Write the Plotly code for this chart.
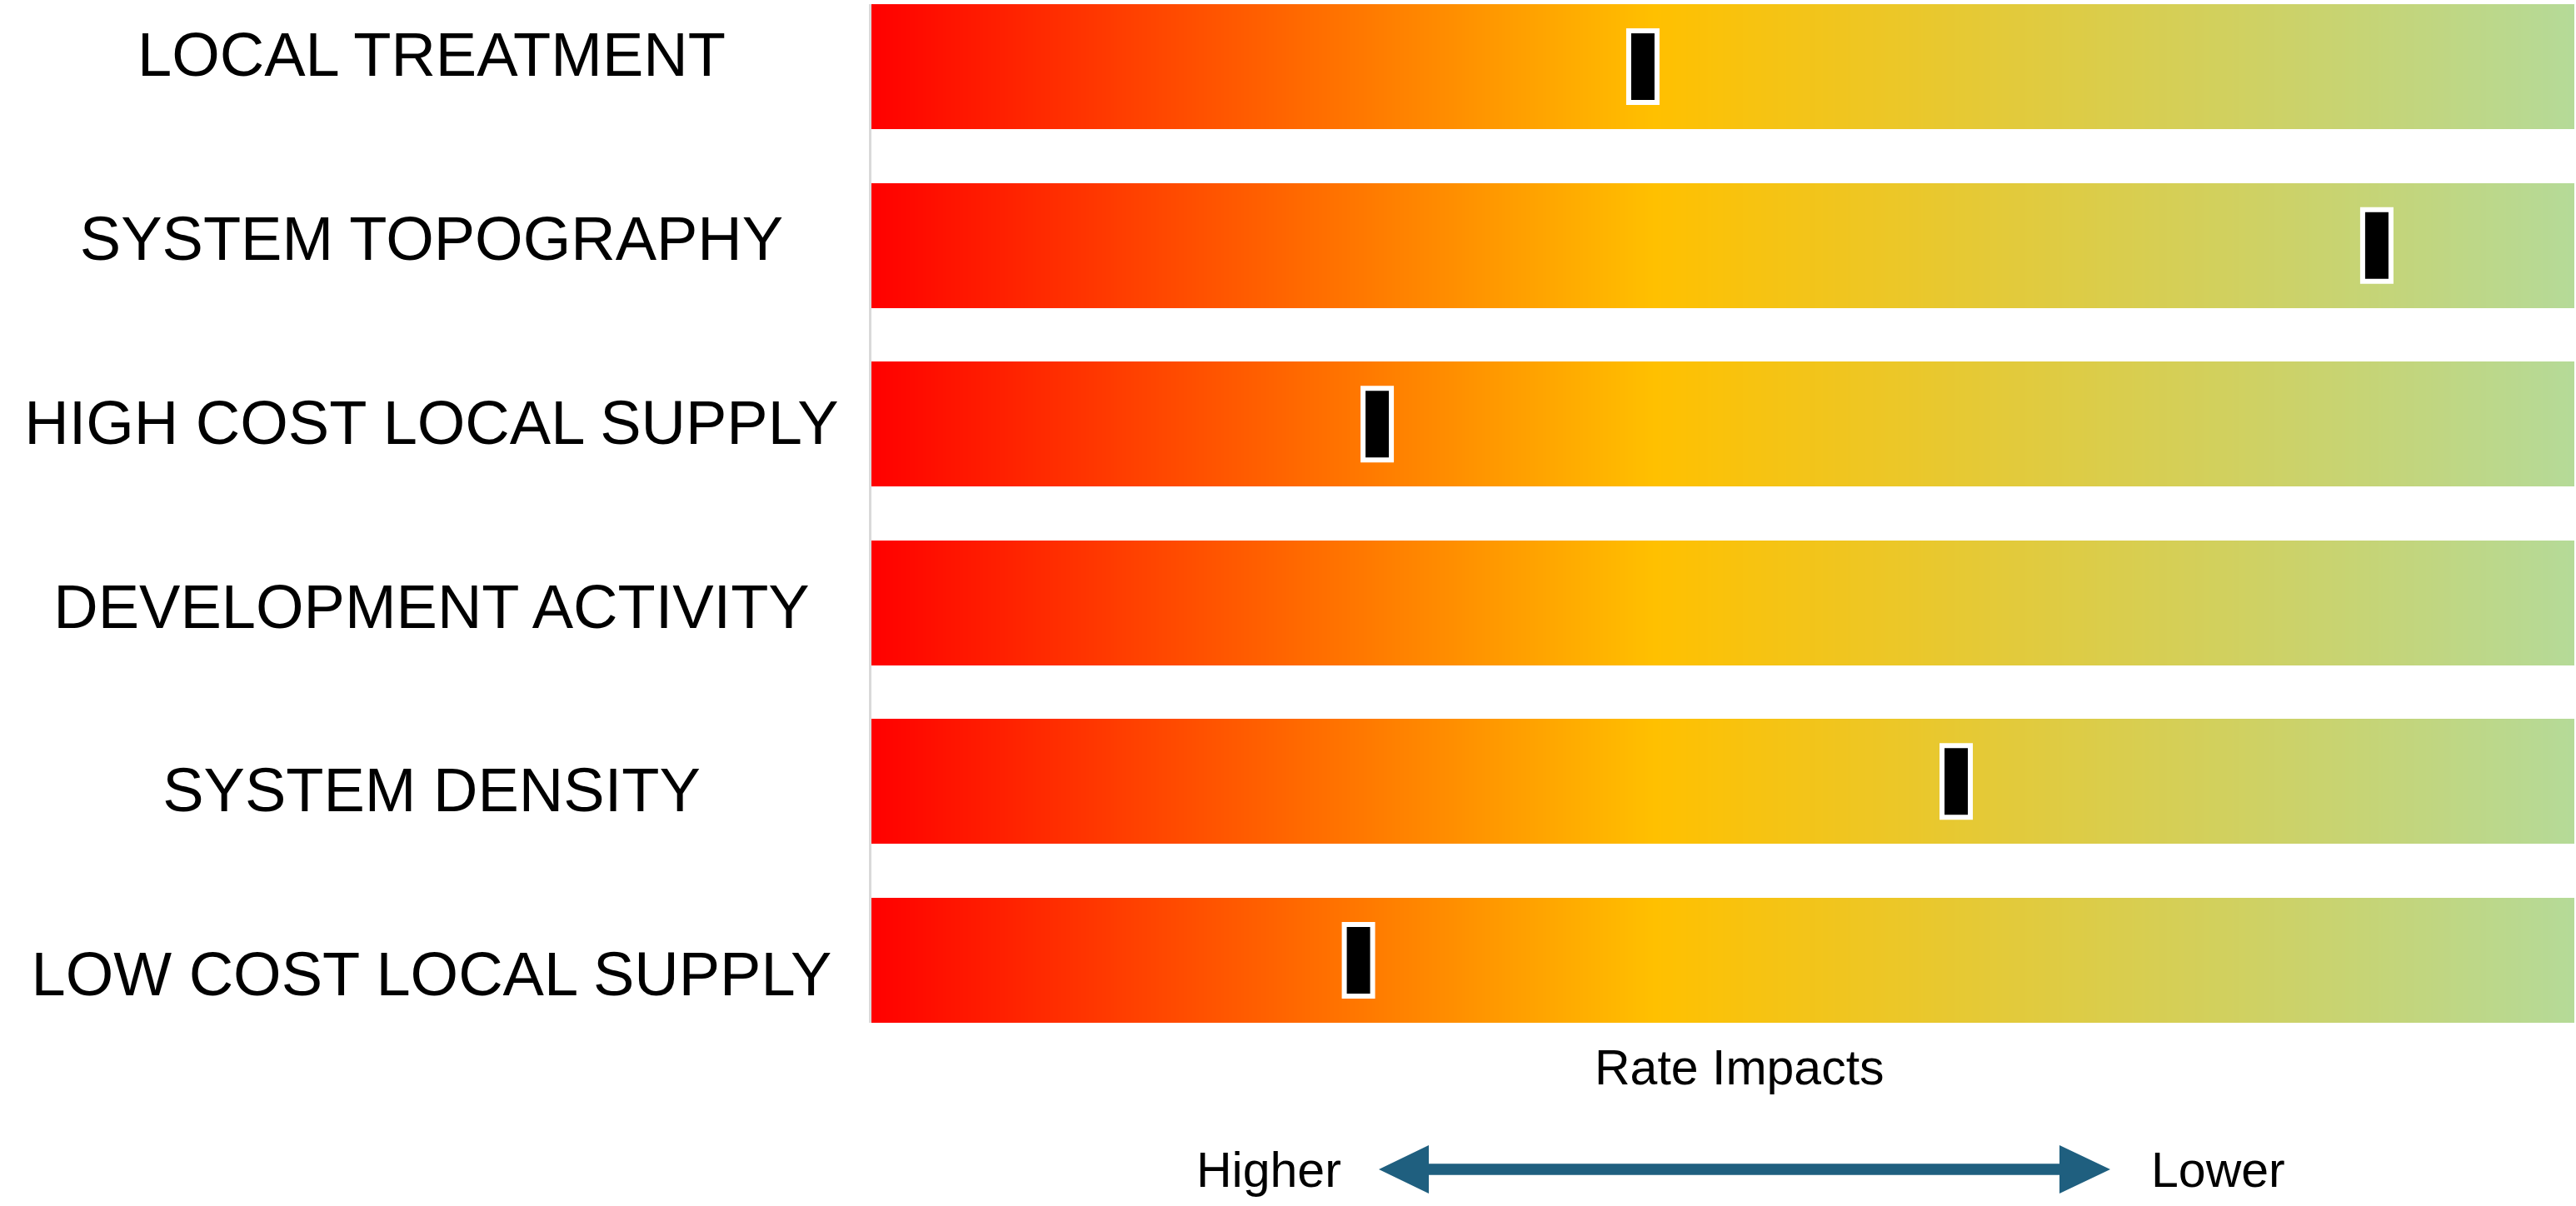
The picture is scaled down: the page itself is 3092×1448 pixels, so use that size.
import numpy as np
import plotly.graph_objects as go

# Factors and where each one sits on the higher -> lower rate impact scale (0-100)
factors = [
    "LOCAL TREATMENT",
    "SYSTEM TOPOGRAPHY",
    "HIGH COST LOCAL SUPPLY",
    "DEVELOPMENT ACTIVITY",
    "SYSTEM DENSITY",
    "LOW COST LOCAL SUPPLY",
]
impact_position = [45.3, 88.4, 29.7, None, 63.7, 28.6]

# Gradient used for every band: red (higher rates) -> gold -> light green (lower rates)
scale_stops = [0.0, 0.46, 1.0]
scale_colors = ["#FF0000", "#FFC000", "#B5DA98"]

axis_title = "Rate Impacts"
direction_labels = ["Higher", "Lower"]

# ---------------------------------------------------------------------------
W, H = 3092, 1448
M_L, M_R, M_T, M_B = 0, 2, 5, 220
PLOT_W = W - M_L - M_R
PLOT_H = H - M_T - M_B
BAR_LEFT = 1046          # left edge of the band panel inside the figure
LABEL_COL = 1036         # width of the label column
BAND = 0.35              # half thickness of each band in category units
FONT = "Liberation Sans, Arial, sans-serif"
ARROW = "#1F5F7F"


def px(x):
    return (x - M_L) / PLOT_W


def py(y):
    return (M_T + PLOT_H - y) / PLOT_H


n = len(factors)
idx = np.arange(n)

# Heatmap rows: a band per factor, with empty (NaN) rows as the gaps between them
y_edges = [-BAND]
for i in range(n):
    y_edges.append(i + BAND)
    if i < n - 1:
        y_edges.append(i + 1 - BAND)
ncols = 1024
x_edges = np.linspace(0, 100, ncols + 1)
x_mid = (x_edges[:-1] + x_edges[1:]) / 2
z = []
for i in range(n):
    z.append(x_mid / 100.0)
    if i < n - 1:
        z.append(np.full(ncols, np.nan))
z = np.array(z)

fig = go.Figure()
fig.add_trace(
    go.Heatmap(
        x=x_edges,
        y=y_edges,
        z=z,
        zmin=0,
        zmax=1,
        colorscale=[[s, c] for s, c in zip(scale_stops, scale_colors)],
        showscale=False,
        hoverinfo="skip",
        xaxis="x",
        yaxis="y",
    )
)

# Factor names, centred in their own column on the left
fig.add_trace(
    go.Scatter(
        x=[0.5] * n,
        y=idx,
        mode="text",
        text=factors,
        textposition="middle center",
        textfont=dict(family=FONT, size=74, color="#000000"),
        hoverinfo="skip",
        showlegend=False,
        xaxis="x2",
        yaxis="y2",
    )
)

# Position markers: black bars with a white outline, sized in pixels
shapes = []
for i, v in enumerate(impact_position):
    if v is None:
        continue
    shapes.append(
        dict(
            type="rect",
            xref="x",
            yref="y",
            xsizemode="pixel",
            ysizemode="pixel",
            xanchor=v,
            yanchor=i,
            x0=-17,
            x1=17,
            y0=-43,
            y1=43,
            fillcolor="#000000",
            line=dict(color="#FFFFFF", width=6),
            layer="above",
        )
    )

# Double-headed direction arrow under the panel
ay, head_h, shaft_h = 1404, 29, 6.7
lx_tip, lx_back, rx_back, rx_tip = 1655, 1715, 2472, 2533
pts = [
    (lx_tip, ay),
    (lx_back, ay - head_h),
    (lx_back, ay - shaft_h),
    (rx_back, ay - shaft_h),
    (rx_back, ay - head_h),
    (rx_tip, ay),
    (rx_back, ay + head_h),
    (rx_back, ay + shaft_h),
    (lx_back, ay + shaft_h),
    (lx_back, ay + head_h),
]
path = "M " + " L ".join(f"{px(x):.6f},{py(y):.6f}" for x, y in pts) + " Z"
shapes.append(
    dict(
        type="path",
        xref="paper",
        yref="paper",
        path=path,
        fillcolor=ARROW,
        line=dict(color=ARROW, width=0),
    )
)

annotations = [
    dict(
        text=axis_title,
        xref="paper",
        yref="paper",
        x=px(2088),
        y=py(1282),
        xanchor="center",
        yanchor="middle",
        showarrow=False,
        font=dict(family=FONT, size=59, color="#000000"),
    ),
    dict(
        text=direction_labels[0],
        xref="paper",
        yref="paper",
        x=px(1612),
        y=py(1405),
        xanchor="right",
        yanchor="middle",
        showarrow=False,
        font=dict(family=FONT, size=59, color="#000000"),
    ),
    dict(
        text=direction_labels[1],
        xref="paper",
        yref="paper",
        x=px(2580),
        y=py(1405),
        xanchor="left",
        yanchor="middle",
        showarrow=False,
        font=dict(family=FONT, size=59, color="#000000"),
    ),
]

fig.update_layout(
    width=W,
    height=H,
    margin=dict(l=M_L, r=M_R, t=M_T, b=M_B, pad=0),
    paper_bgcolor="#FFFFFF",
    plot_bgcolor="#FFFFFF",
    showlegend=False,
    shapes=shapes,
    annotations=annotations,
    xaxis=dict(
        domain=[px(BAR_LEFT), 1],
        range=[0, 100],
        visible=False,
        fixedrange=True,
    ),
    yaxis=dict(
        domain=[0, 1],
        range=[n - 1 + BAND, -BAND],
        showline=True,
        linecolor="#D9D9D9",
        linewidth=3,
        showticklabels=False,
        ticks="",
        showgrid=False,
        zeroline=False,
        fixedrange=True,
    ),
    xaxis2=dict(
        domain=[0, px(LABEL_COL)],
        range=[0, 1],
        visible=False,
        anchor="y2",
        fixedrange=True,
    ),
    yaxis2=dict(
        domain=[0, 1],
        range=[5.232, -0.307],
        visible=False,
        anchor="x2",
        fixedrange=True,
    ),
)

fig.write_html("out.html")
